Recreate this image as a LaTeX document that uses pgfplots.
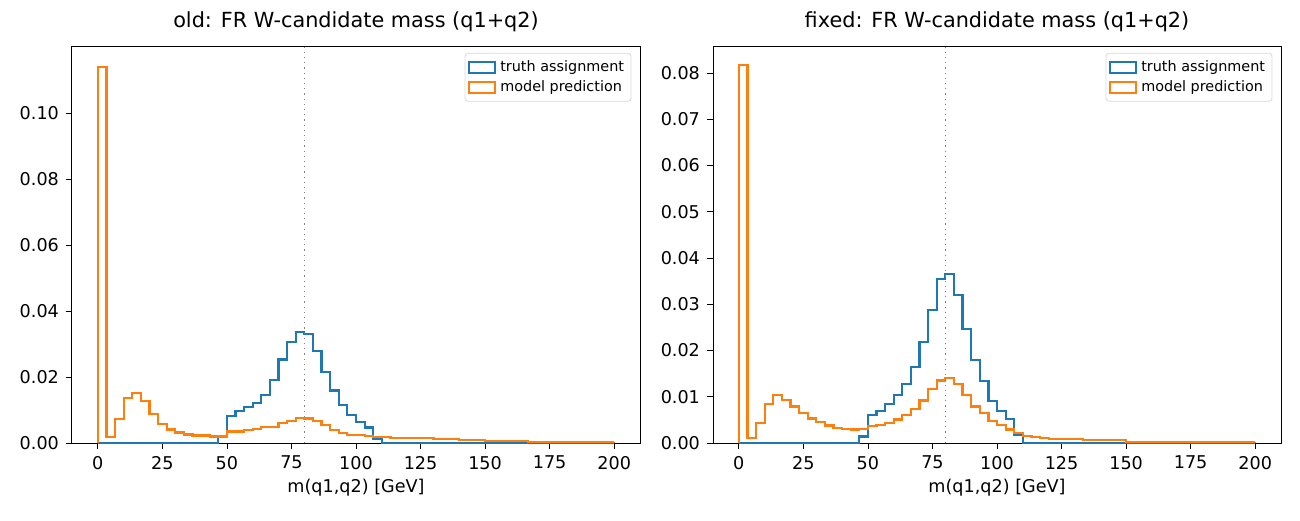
\documentclass[border=0pt]{standalone}
\usepackage{pgfplots}
\pgfplotsset{compat=1.18}
\usepackage{pgfplotstable}
\usepackage{fontspec}
\setmainfont{DejaVu Sans}
\definecolor{C0}{HTML}{1F77B4}
\definecolor{C1}{HTML}{FF7F0E}
\pgfplotstableread{
i y
0 0
0 0.1140
1 0.0017
2 0.0073
3 0.0136
4 0.0152
5 0.0128
6 0.0088
7 0.0057
8 0.0041
9 0.0032
10 0.0026
11 0.0023
12 0.0023
13 0.0020
14 0.0020
15 0.0035
16 0.0035
17 0.0040
18 0.0043
19 0.0049
20 0.0049
21 0.0060
22 0.0066
23 0.0076
24 0.0074
25 0.0067
26 0.0055
27 0.0039
28 0.0031
29 0.0025
30 0.0025
31 0.0022
32 0.0018
33 0.0017
34 0.0015
39 0.0012
42 0.0008
45 0.0006
50 0.0004
60 0.0004
}\oldpred
\pgfplotstableread{
i y
0 0
14 0.0017
15 0.0082
16 0.0098
17 0.0108
18 0.0122
19 0.0146
20 0.0192
21 0.0253
22 0.0305
23 0.0337
24 0.0331
25 0.0279
26 0.0216
27 0.0159
28 0.0115
29 0.0084
30 0.0064
31 0.0047
32 0.0012
33 0
60 0
}\oldtruth
\pgfplotstableread{
i y
0 0
0 0.0817
1 0.0011
2 0.0043
3 0.0084
4 0.0103
5 0.0093
6 0.0079
7 0.0064
8 0.0053
9 0.0045
10 0.0038
11 0.0032
12 0.0030
13 0.0029
14 0.0030
15 0.0036
16 0.0039
17 0.0043
18 0.0051
19 0.0061
20 0.0074
21 0.0092
22 0.0117
23 0.0135
24 0.0141
25 0.0128
26 0.0103
27 0.0079
28 0.0064
29 0.0048
30 0.0039
31 0.0029
32 0.0021
33 0.0016
34 0.0013
35 0.0010
36 0.0008
40 0.0006
45 0.0003
60 0.0003
}\newpred
\pgfplotstableread{
i y
0 0
14 0.0014
15 0.0061
16 0.0070
17 0.0084
18 0.0103
19 0.0128
20 0.0164
21 0.0218
22 0.0288
23 0.0355
24 0.0365
25 0.0320
26 0.0246
27 0.0180
28 0.0134
29 0.0090
30 0.0070
31 0.0052
32 0.0017
33 0
60 0
}\newtruth
\pgfplotsset{
  hist/.style={
    scale only axis, width=284pt, height=198pt,
    xmin=-10, xmax=210, ymin=0,
    xtick={0,25,...,200},
    tick align=outside, tick pos=left,
    major tick length=3pt,
    every tick/.style={black, line width=0.4pt},
    tick label style={font=\fontsize{8.8}{10}\selectfont},
    /pgf/number format/assume math mode=true,
    yticklabel style={/pgf/number format/.cd, fixed, fixed zerofill, precision=2},
    scaled y ticks=false,
    xlabel={m(q1,q2) [GeV]},
    xlabel style={font=\fontsize{8.8}{10}\selectfont, yshift=2pt},
    title style={font=\fontsize{10.4}{12}\selectfont, yshift=-2pt},
    legend pos=north east,
    legend style={font=\fontsize{7.2}{8}\selectfont, draw=black!15, rounded corners=1.5pt, inner sep=1.5pt, row sep=-1pt, at={(0.985,0.985)}},
    legend cell align=left,
    legend image code/.code={\draw[#1, sharp corners] (0pt,-2.8pt) rectangle (13pt,2.8pt);},
    axis line style={line width=0.5pt},
  },
  hstep/.style={const plot mark left, line width=1.1pt, mark=none, line join=miter},
}
\begin{document}
\begin{tikzpicture}
\useasboundingbox (0,0) rectangle (650pt,260pt);
\begin{axis}[hist, at={(36pt,38.5pt)}, anchor=south west,
  ymax=0.12, ytick={0,0.02,...,0.10},
  title={old: FR W-candidate mass (q1+q2)}]
\addplot[hstep, C0] table[x expr=\thisrow{i}*10/3, y=y]{\oldtruth};
\addlegendentry{truth assignment}
\addplot[hstep, C1] table[x expr=\thisrow{i}*10/3, y=y]{\oldpred};
\addlegendentry{model prediction}
\draw[C1, line width=1.1pt] (axis cs:200,0.0004) -- (axis cs:200,0);
\draw[gray, dotted, line width=0.6pt] (axis cs:80,0) -- (axis cs:80,0.12);
\end{axis}
\begin{axis}[hist, at={(356.5pt,38.5pt)}, anchor=south west,
  ymax=0.0856, ytick={0,0.01,...,0.081},
  title={fixed: FR W-candidate mass (q1+q2)}]
\addplot[hstep, C0] table[x expr=\thisrow{i}*10/3, y=y]{\newtruth};
\addlegendentry{truth assignment}
\addplot[hstep, C1] table[x expr=\thisrow{i}*10/3, y=y]{\newpred};
\addlegendentry{model prediction}
\draw[C1, line width=1.1pt] (axis cs:200,0.0003) -- (axis cs:200,0);
\draw[gray, dotted, line width=0.6pt] (axis cs:80,0) -- (axis cs:80,0.0856);
\end{axis}
\end{tikzpicture}
\end{document}
